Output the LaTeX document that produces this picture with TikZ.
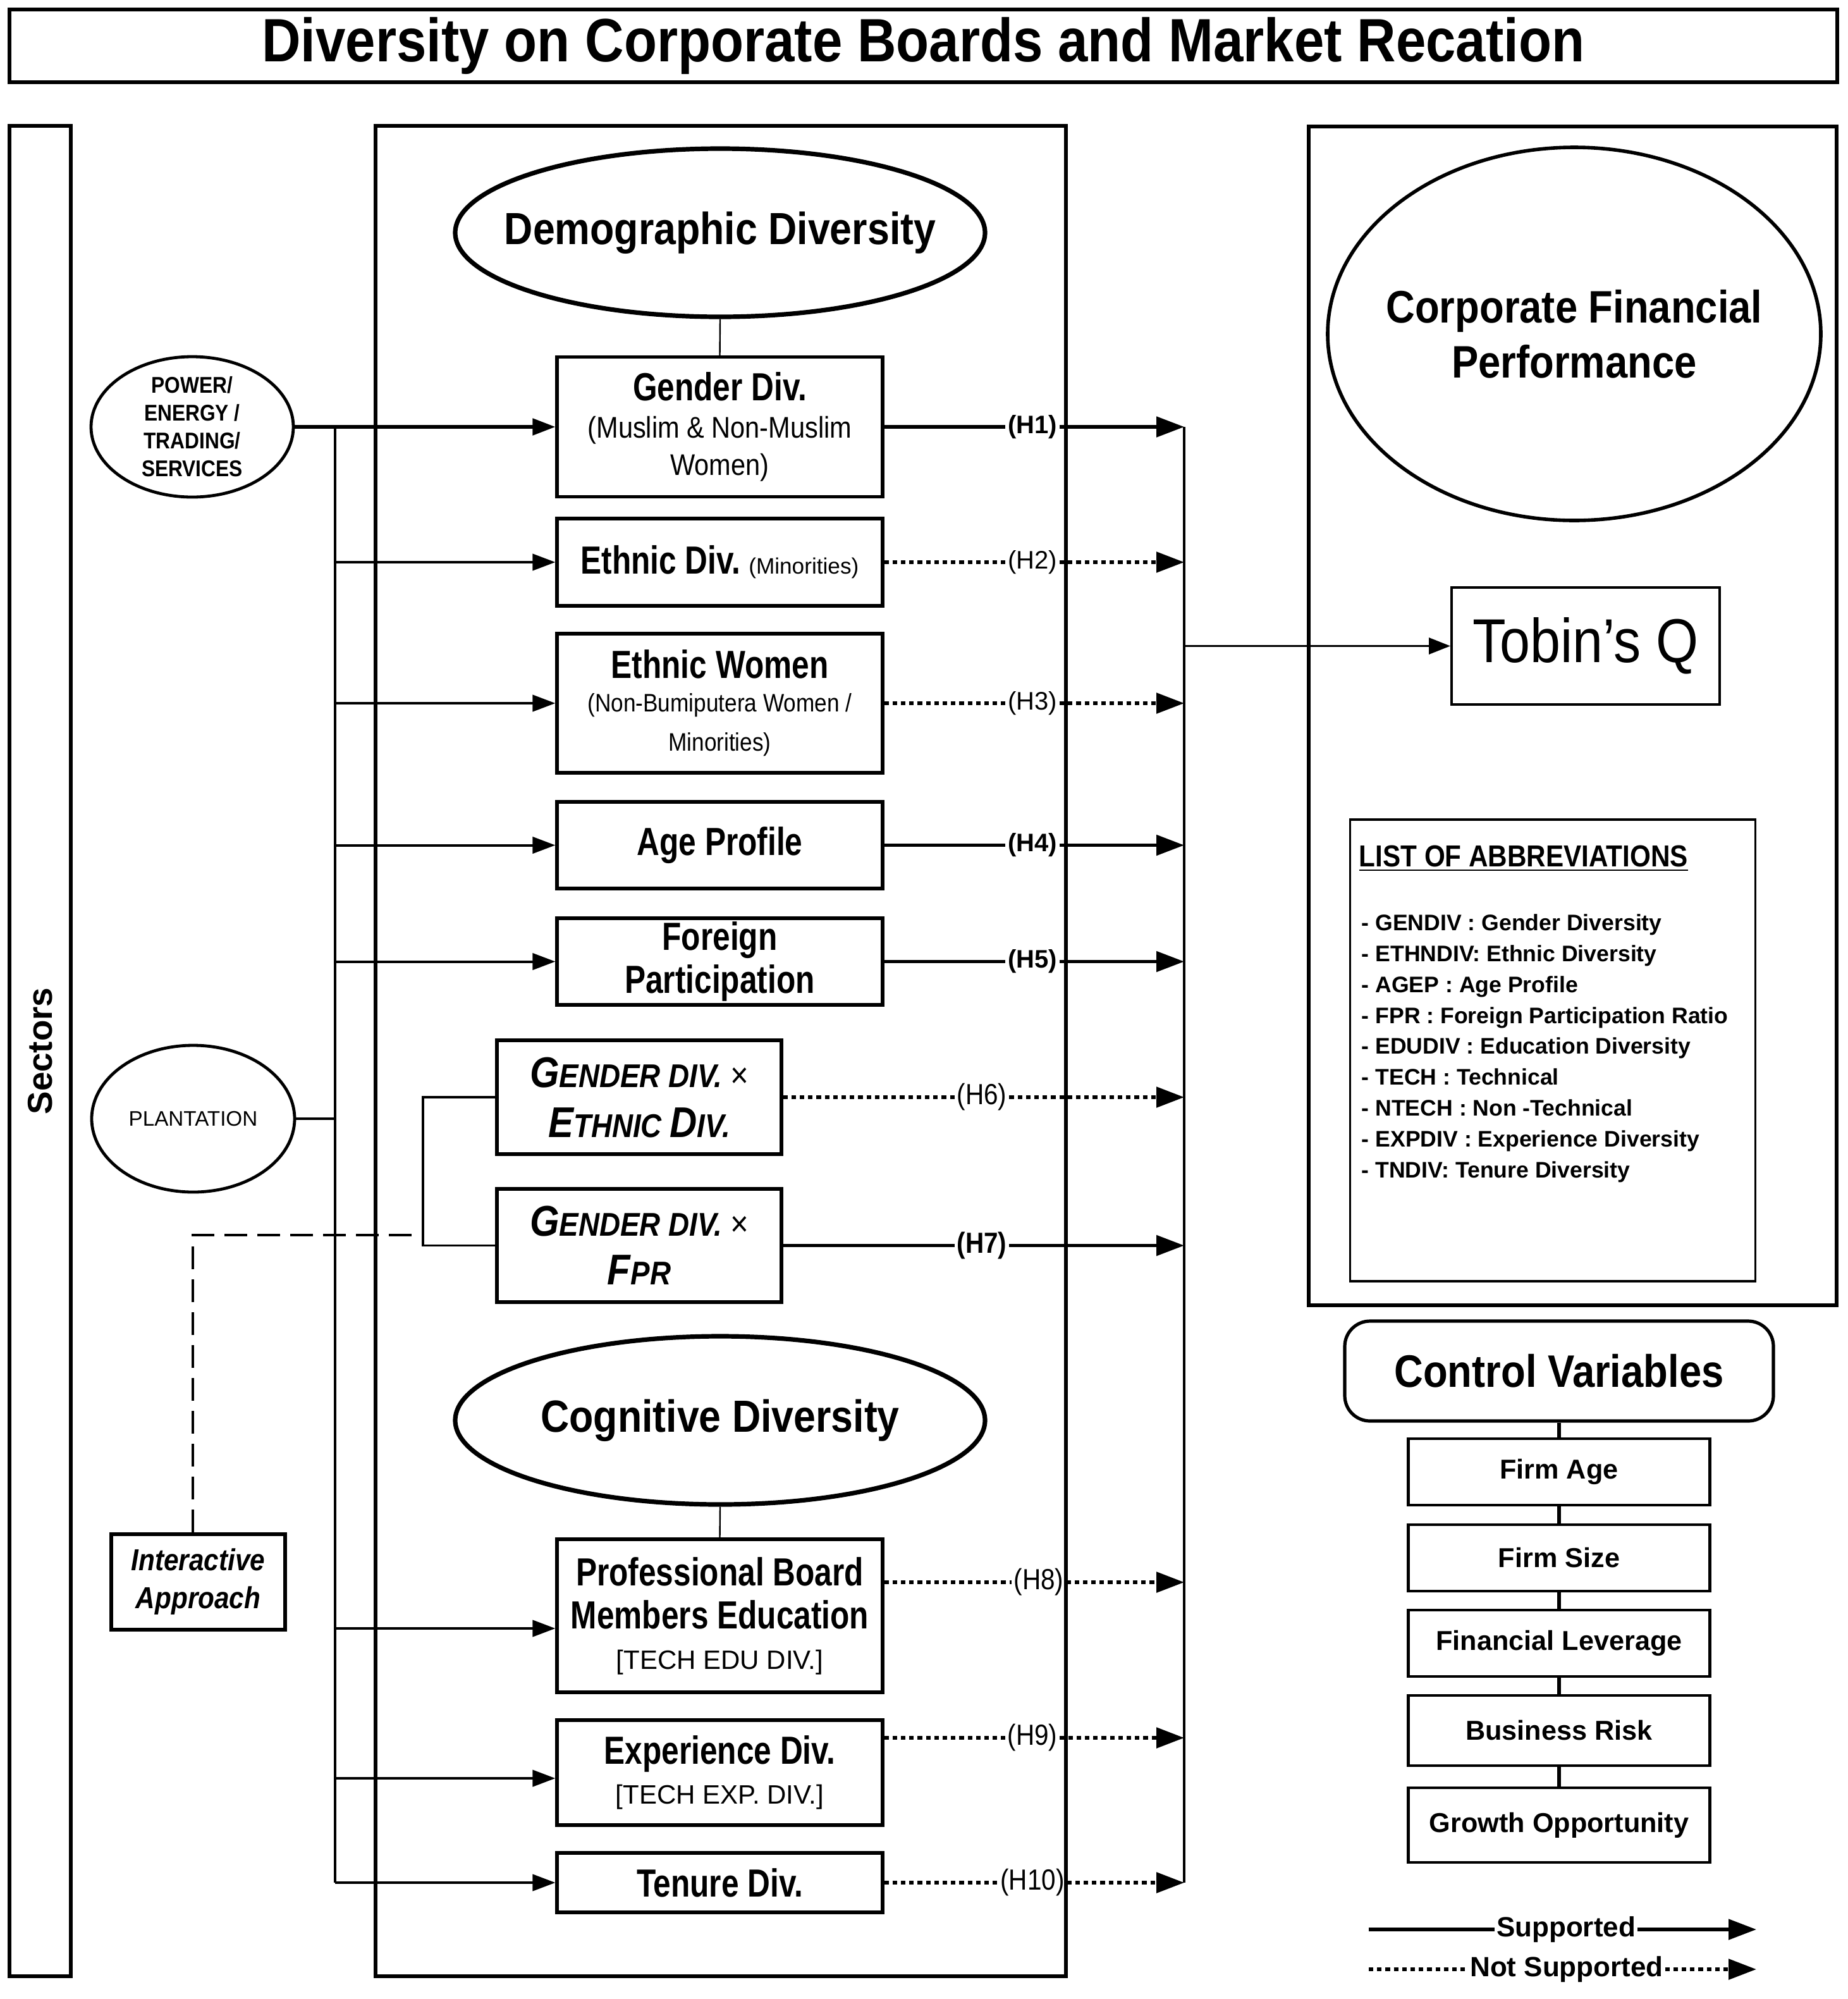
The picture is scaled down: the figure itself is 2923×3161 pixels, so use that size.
\documentclass[tikz,border=0pt]{standalone}
\usepackage{fontspec}
\setmainfont[FakeStretch=0.88]{Liberation Sans}
\newfontfamily\NarrowF[FakeStretch=0.80]{Liberation Sans}
\newfontfamily\PlainF{Liberation Sans}
\usetikzlibrary{shapes.geometric,arrows.meta}
\newcommand\fsz[2]{\fontsize{#1}{#2}\selectfont}
\begin{document}
\begin{tikzpicture}[x=0.25pt,y=-0.25pt,
  frame/.style={draw,line width=1.3pt,inner sep=0pt},
  box/.style={draw,line width=1.3pt,inner sep=1pt,align=center},
  dbox/.style={box,minimum width=128.75pt},
  ell/.style={draw,ellipse,line width=1.8pt,inner xsep=-20pt,inner ysep=0pt,align=center},
  suprt/.style={line width=1.3pt},
  nsuprt/.style={line width=1.4pt,dash pattern=on 1.8pt off 1.5pt},
  bigtip/.style={-{Triangle[length=11pt,width=8pt]}},
  smalltip/.style={-{Triangle[length=9pt,width=6.5pt]}},
  hlab/.style={inner sep=0.8pt},
  busline/.style={line width=0.8pt},
  larr/.style={line width=1pt,smalltip},
  ctrl/.style={draw,line width=1.2pt,inner sep=1pt,minimum width=119.25pt,font={\PlainF\bfseries\fsz{10.8}{13}}},
  dashline/.style={line width=0.9pt,dash pattern=on 9pt off 4pt}
]
\path[use as bounding box,fill=white] (0,0) rectangle (2923,3161);

% frames
\node[frame,minimum width=722.75pt,minimum height=28.75pt] (title) at (1460.5,72.5)
  {\bfseries\fsz{24.2}{29}Diversity on Corporate Boards and Market Recation};
\node[frame,minimum width=731.5pt,minimum height=24.25pt,rotate=90] (sectors) at (63.5,1662)
  {\PlainF\bfseries\fsz{13.7}{16}Sectors};
\node[frame,minimum width=273pt,minimum height=731.5pt] (mid) at (1140,1662) {};
\node[frame,minimum width=208.75pt,minimum height=466pt] (rightf) at (2487.5,1132) {};

% ellipses
\node[ell,minimum width=209.5pt,minimum height=66.5pt] (demo) at (1139,368)
  {\bfseries\fsz{17.8}{21}Demographic Diversity};
\node[ell,minimum width=209.5pt,minimum height=66.5pt] (cogn) at (1139,2246)
  {\bfseries\fsz{17.8}{21}Cognitive Diversity};
\node[ell,line width=1.4pt,minimum width=195pt,minimum height=147.5pt,font={\bfseries\fsz{18}{21.75}}] (cfp) at (2490,528)
  {Corporate Financial\\Performance};

% sector ellipses
\node[draw,ellipse,line width=1.2pt,minimum width=80pt,minimum height=55.5pt,inner xsep=0pt,inner ysep=-3pt,align=center,font={\bfseries\fsz{9}{11}}] (power) at (304,675)
  {POWER/\\ENERGY /\\TRADING/\\SERVICES};
\node[draw,ellipse,line width=1.2pt,minimum width=80.25pt,minimum height=58pt,inner sep=0pt,font={\PlainF\fsz{8.3}{10}}] (plant) at (305.5,1769)
  {PLANTATION};
\node[box,line width=1.5pt,minimum width=68.75pt,minimum height=37.75pt,font={\bfseries\itshape\fsz{12}{15}}] (inter) at (313.5,2501.5)
  {Interactive\\Approach};

% demographic boxes
\node[dbox,minimum height=55.25pt,font={\fsz{11.8}{14.75}}] (gender) at (1138.5,675)
  {{\NarrowF\bfseries\fsz{15.5}{14.75}Gender Div.}\\(Muslim \& Non-Muslim\\Women)};
\node[dbox,minimum height=34.5pt] (ethnic) at (1138.5,889)
  {{\NarrowF\bfseries\fsz{15.5}{18}Ethnic Div.} {\PlainF\fsz{8.8}{10}(Minorities)}};
\node[dbox,minimum height=55pt,font={\fsz{10}{15.5}}] (ewomen) at (1138.5,1112)
  {{\NarrowF\bfseries\fsz{15.5}{15.5}Ethnic Women}\\[-2.25pt](Non-Bumiputera Women /\\Minorities)};
\node[dbox,minimum height=34.25pt,font={\NarrowF\bfseries\fsz{15.5}{18}}] (age) at (1138.5,1336.5)
  {Age Profile};
\node[dbox,minimum height=34.25pt,font={\NarrowF\bfseries\fsz{15.5}{17}}] (foreign) at (1138.5,1520.5)
  {Foreign\\Participation};
\node[box,minimum width=112.5pt,minimum height=45pt,font={\bfseries\itshape\fsz{13}{19.75}}] (gxe) at (1011,1735)
  {{\fsz{17}{19.75}G}ENDER DIV. {\upshape\mdseries\fsz{14}{19.75}×}\\{\fsz{17}{19.75}E}THNIC {\fsz{17}{19.75}D}IV.};
\node[box,minimum width=112.5pt,minimum height=44.75pt,font={\bfseries\itshape\fsz{13}{19.25}}] (gxf) at (1011,1969.5)
  {{\fsz{17}{19.25}G}ENDER DIV. {\upshape\mdseries\fsz{14}{19.25}×}\\{\fsz{17}{19.25}F}PR};

% cognitive boxes
\node[dbox,minimum height=60.5pt,font={\NarrowF\bfseries\fsz{15.5}{17}}] (prof) at (1138.5,2555)
  {Professional Board\\Members Education\\[-1pt]{\PlainF\mdseries\fsz{10.5}{16}[TECH EDU DIV.]}};
\node[dbox,minimum height=41.5pt,font={\NarrowF\bfseries\fsz{15.5}{17}}] (exp) at (1138.5,2803)
  {Experience Div.\\[-1.25pt]{\PlainF\mdseries\fsz{10.5}{16}[TECH EXP. DIV.]}};
\node[dbox,minimum height=23.5pt,font={\NarrowF\bfseries\fsz{15.5}{17}}] (tenure) at (1138.5,2977)
  {Tenure Div.};

% right column
\node[box,line width=1pt,minimum width=106pt,minimum height=46.25pt,font={\fsz{24.5}{29}}] (tobin) at (2508,1021.5)
  {Tobin’s Q};
\node[box,line width=0.9pt,minimum width=160.25pt,minimum height=182.5pt] (abbr) at (2456,1661) {};
\node[anchor=base west,inner sep=0pt,font={\bfseries\fsz{12}{14}}] (abbrhead) at (2149,1370)
  {\underline{LIST OF ABBREVIATIONS}};
\node[anchor=north west,inner sep=0pt,align=left,font={\PlainF\bfseries\fsz{8.9}{12.2}}] (abbrlist) at (2153,1445)
  {- GENDIV : Gender Diversity\\
   - ETHNDIV: Ethnic Diversity\\
   - AGEP : Age Profile\\
   - FPR : Foreign Participation Ratio\\
   - EDUDIV : Education Diversity\\
   - TECH : Technical\\
   - NTECH : Non -Technical\\
   - EXPDIV : Experience Diversity\\
   - TNDIV: Tenure Diversity};

\node[box,rounded corners=10pt,minimum width=169.5pt,minimum height=39.5pt,font={\bfseries\fsz{18}{21}}] (control) at (2466,2168)
  {Control Variables};
\node[ctrl,minimum height=26.25pt] (fage) at (2466,2327.5) {Firm Age};
\node[ctrl,minimum height=26.25pt] (fsize) at (2466,2463.5) {Firm Size};
\node[ctrl,minimum height=26.25pt] (flev) at (2466,2598.5) {Financial Leverage};
\node[ctrl,minimum height=27.75pt] (brisk) at (2466,2736.5) {Business Risk};
\node[ctrl,minimum height=29.5pt] (growth) at (2466,2886) {Growth Opportunity};
\draw[line width=1.5pt] (control.south) -- (fage.north);
\draw[line width=1.5pt] (fage.south) -- (fsize.north);
\draw[line width=1.5pt] (fsize.south) -- (flev.north);
\draw[line width=1.5pt] (flev.south) -- (brisk.north);
\draw[line width=1.5pt] (brisk.south) -- (growth.north);

% ellipse stems
\draw[line width=0.6pt] (demo.south) -- (gender.north);
\draw[line width=0.6pt] (cogn.south) -- (prof.north);

% left bus
\coordinate (s1) at (530,675);
\coordinate (s2) at (530,889);
\coordinate (s3) at (530,1112);
\coordinate (s4) at (530,1336.5);
\coordinate (s5) at (530,1520.5);
\coordinate (s8) at (530,2575);
\coordinate (s9) at (530,2812);
\coordinate (s10) at (530,2977);
\draw[busline] (s1) -- (s10);
\draw[line width=1.3pt,smalltip] (power.east) -- (gender.west);
\draw[larr] (s2) -- (ethnic.west);
\draw[larr] (s3) -- (ewomen.west);
\draw[larr] (s4) -- (age.west);
\draw[larr] (s5) -- (foreign.west);
\draw[larr] (s8) -- (s8 -| prof.west);
\draw[larr] (s9) -- (s9 -| exp.west);
\draw[larr] (s10) -- (tenure.west);
\draw[busline] (plant.east) -- (plant.east -| s1);

% interaction bracket and dashed link
\coordinate (bk) at (669,1953);
\coordinate (jd) at (305,1953);
\draw[line width=0.9pt] (gxe.west) -- (gxe.west -| bk) -- (gxf.west -| bk) -- (gxf.west);
\draw[dashline] (jd |- inter.north) -- (jd) -- (bk);

% hypothesis labels
\node[hlab,font={\PlainF\bfseries\fsz{10}{12}}] (h1) at (1633,675) {(H1)};
\node[hlab,font={\PlainF\fsz{10}{12}}] (h2) at (1633,889) {(H2)};
\node[hlab,font={\PlainF\fsz{10}{12}}] (h3) at (1633,1112) {(H3)};
\node[hlab,font={\PlainF\bfseries\fsz{10}{12}}] (h4) at (1633,1336.5) {(H4)};
\node[hlab,font={\PlainF\bfseries\fsz{10}{12}}] (h5) at (1633,1520.5) {(H5)};
\node[hlab,font={\fsz{11.5}{13}}] (h6) at (1553,1735) {(H6)};
\node[hlab,font={\bfseries\fsz{11.5}{13}}] (h7) at (1553,1969.5) {(H7)};
\node[hlab,font={\fsz{11.5}{13}}] (h8) at (1643,2502) {(H8)};
\node[hlab,font={\fsz{11.5}{13}}] (h9) at (1633,2748) {(H9)};
\node[hlab,font={\fsz{11.5}{13}}] (h10) at (1633,2977) {(H10)};

% right bus
\coordinate (e1) at (1873,675);
\coordinate (e2) at (1873,889);
\coordinate (e3) at (1873,1112);
\coordinate (e4) at (1873,1336.5);
\coordinate (e5) at (1873,1520.5);
\coordinate (e6) at (1873,1735);
\coordinate (e7) at (1873,1969.5);
\coordinate (e8) at (1873,2502);
\coordinate (e9) at (1873,2748);
\coordinate (e10) at (1873,2977);
\coordinate (eT) at (1873,1021.5);
\draw[busline] (e1) -- (e10);
\draw[busline,-{Triangle[length=8.5pt,width=6.5pt]}] (eT) -- (tobin.west);

\draw[suprt] (gender.east) -- (h1.west);
\draw[suprt,bigtip] (h1.east) -- (e1);
\draw[nsuprt] (ethnic.east) -- (h2.west);
\draw[nsuprt,bigtip] (h2.east) -- (e2);
\draw[nsuprt] (ewomen.east) -- (h3.west);
\draw[nsuprt,bigtip] (h3.east) -- (e3);
\draw[suprt] (age.east) -- (h4.west);
\draw[suprt,bigtip] (h4.east) -- (e4);
\draw[suprt] (foreign.east) -- (h5.west);
\draw[suprt,bigtip] (h5.east) -- (e5);
\draw[nsuprt] (gxe.east) -- (h6.west);
\draw[nsuprt,bigtip] (h6.east) -- (e6);
\draw[suprt] (gxf.east) -- (h7.west);
\draw[suprt,bigtip] (h7.east) -- (e7);
\draw[nsuprt] (prof.east |- h8) -- (h8.west);
\draw[nsuprt,bigtip] (h8.east) -- (e8);
\draw[nsuprt] (exp.east |- h9) -- (h9.west);
\draw[nsuprt,bigtip] (h9.east) -- (e9);
\draw[nsuprt] (tenure.east) -- (h10.west);
\draw[nsuprt,bigtip] (h10.east) -- (e10);

% legend
\coordinate (la) at (2165,3051);
\coordinate (lb) at (2778,3051);
\coordinate (lc) at (2165,3114);
\coordinate (ld) at (2778,3114);
\node[inner sep=0.5pt,font={\PlainF\bfseries\fsz{11}{13}}] (lsup) at (2477,3051) {Supported};
\node[inner sep=0.5pt,font={\PlainF\bfseries\fsz{11}{13}}] (lnsup) at (2478,3114) {Not Supported};
\draw[suprt] (la) -- (lsup.west);
\draw[suprt,bigtip] (lsup.east) -- (lb);
\draw[nsuprt] (lc) -- (lnsup.west);
\draw[nsuprt,bigtip] (lnsup.east) -- (ld);
\end{tikzpicture}
\end{document}
